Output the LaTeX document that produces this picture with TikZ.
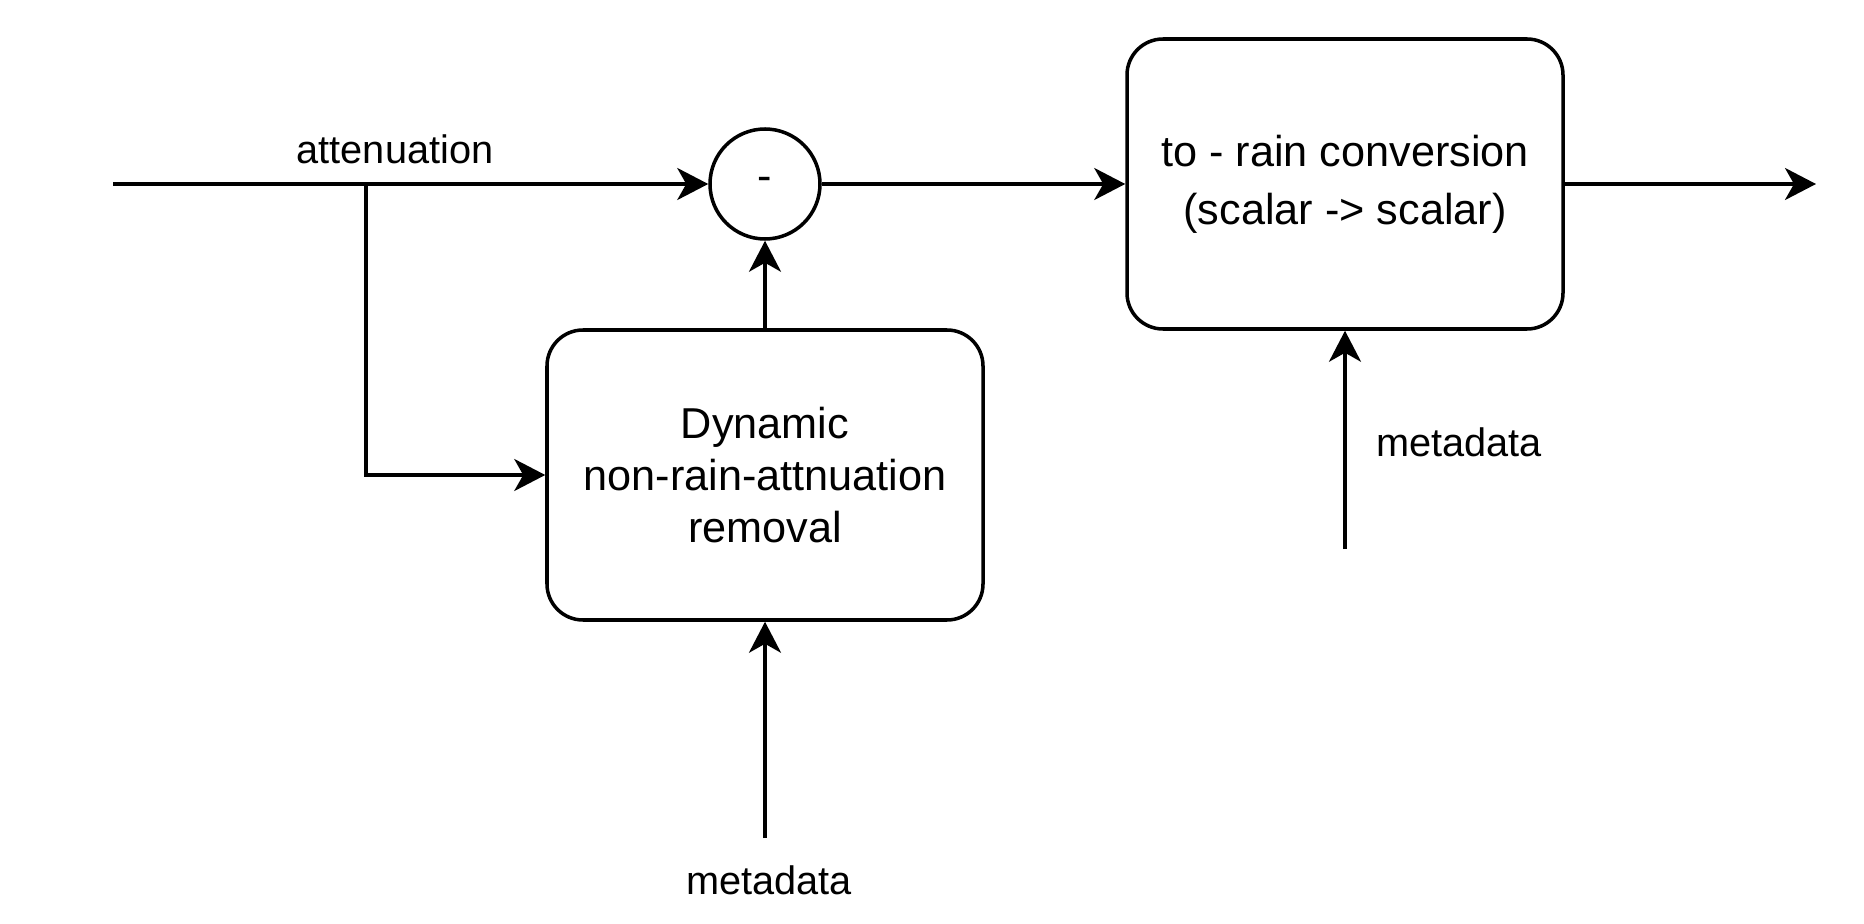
\documentclass[tikz,border=0pt]{standalone}
\usepackage{fontspec}
\setmainfont{Liberation Sans}
\usetikzlibrary{arrows.meta}
\begin{document}
\begin{tikzpicture}[font=\fontsize{12.3}{14.8}\selectfont, line width=1pt,
    blockbox/.style={draw, rounded corners=0.36cm, minimum width=4.36cm,
                     minimum height=2.9cm, align=center, inner sep=0pt},
    sidelabel/.style={font=\fontsize{11.3}{13.6}\selectfont},
    flow/.style={-{Stealth[length=3.1mm,width=3.2mm,inset=0.9mm]}}]
  \path[use as bounding box] (0,0) rectangle (18.64,9.23);
  \coordinate (in) at (1.13,7.39);
  \coordinate (split) at (3.66,7.39);
  \node[draw, circle, minimum size=1.1cm, inner sep=0pt] (sub) at (7.65,7.39) {-};
  \node[blockbox] (removal) at (7.65,4.48) {Dynamic\\non-rain-attnuation\\removal};
  \node[blockbox, font=\fontsize{12.3}{16.6}\selectfont] (conv) at (13.45,7.39)
    {to - rain conversion\\(scalar -> scalar)};
  \coordinate (out) at (18.16,7.39);
  \coordinate (metaA) at (7.65,0.85);
  \coordinate (metaB) at (13.45,3.74);
  \node[sidelabel] (attlabel) at (3.95,7.74) {attenuation};
  \node[sidelabel] (metaAlabel) at (7.69,0.43) {metadata};
  \node[sidelabel] (metaBlabel) at (14.59,4.81) {metadata};

  \draw[flow] (in) -- (sub);
  \draw[flow] (split) |- (removal);
  \draw[flow] (removal) -- (sub);
  \draw[flow] (sub) -- (conv);
  \draw[flow] (conv) -- (out);
  \draw[flow] (metaA) -- (removal);
  \draw[flow] (metaB) -- (conv);
\end{tikzpicture}
\end{document}
